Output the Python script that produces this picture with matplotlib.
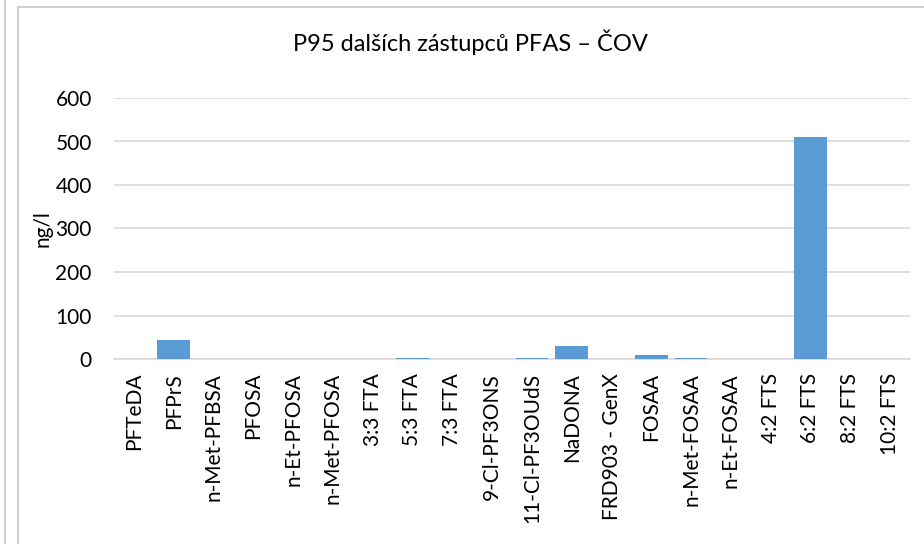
import matplotlib
matplotlib.use("Agg")
import matplotlib.pyplot as plt
from matplotlib.lines import Line2D

# Data
categories = ['PFTeDA', 'PFPrS', 'n-Met-PFBSA', 'PFOSA', 'n-Et-PFOSA', 'n-Met-PFOSA',
              '3:3 FTA', '5:3 FTA', '7:3 FTA', '9-Cl-PF3ONS', '11-Cl-PF3OUdS', 'NaDONA',
              'FRD903 - GenX', 'FOSAA', 'n-Met-FOSAA', 'n-Et-FOSAA', '4:2 FTS', '6:2 FTS',
              '8:2 FTS', '10:2 FTS']
values = [0, 44, 0, 0, 0, 0, 0, 3, 0, 0, 3, 29, 0, 10, 3, 0, 0, 510, 0, 0]
yticks = [0, 100, 200, 300, 400, 500, 600]

plt.rcParams['font.family'] = ['Lato', 'DejaVu Sans']

W, H = 924, 544
fig = plt.figure(figsize=(W / 100, H / 100), dpi=100)
fig.patch.set_facecolor('white')

# plot area in pixel coords
left, right, top, bottom = 114, 910, 98, 359
ax = fig.add_axes([left / W, 1 - bottom / H, (right - left) / W, (bottom - top) / H])

x = range(len(categories))
ax.bar(x, values, width=0.82, color='#5B9BD5', zorder=3)
ax.set_xlim(-0.5, len(categories) - 0.5)
ax.set_ylim(0, 600)
ax.set_yticks(yticks)
ax.set_yticklabels([str(v) for v in yticks], fontsize=15, color='#000000')
ax.set_xticks(list(x))
ax.set_xticklabels(categories, rotation=90, fontsize=15)
ax.tick_params(axis='both', length=0)
ax.tick_params(axis='y', pad=16)
ax.tick_params(axis='x', pad=10)
ax.grid(axis='y', color='#D9D9D9', linewidth=1.2, zorder=0)
for s in ['top', 'right', 'left']:
    ax.spines[s].set_visible(False)
ax.spines['bottom'].set_color('#D9D9D9')
ax.spines['bottom'].set_linewidth(1.2)
ax.set_ylabel('ng/l', fontsize=15, labelpad=2)

fig.text(470 / W, 1 - 42 / H, 'P95 dalších zástupců PFAS – ČOV', ha='center', va='center',
         fontsize=17, color='#000000')

# chart frame lines
frame = '#D0D0D0'
fig.add_artist(Line2D([4.5 / W, 4.5 / W], [0, 1], color=frame, linewidth=1.5, transform=fig.transFigure))
fig.add_artist(Line2D([17.5 / W, 17.5 / W], [0, 1 - 7 / H], color=frame, linewidth=1.5, transform=fig.transFigure))
fig.add_artist(Line2D([17.5 / W, 1], [1 - 7 / H, 1 - 7 / H], color=frame, linewidth=1.5, transform=fig.transFigure))

fig.savefig('out.png', dpi=100, facecolor='white')
